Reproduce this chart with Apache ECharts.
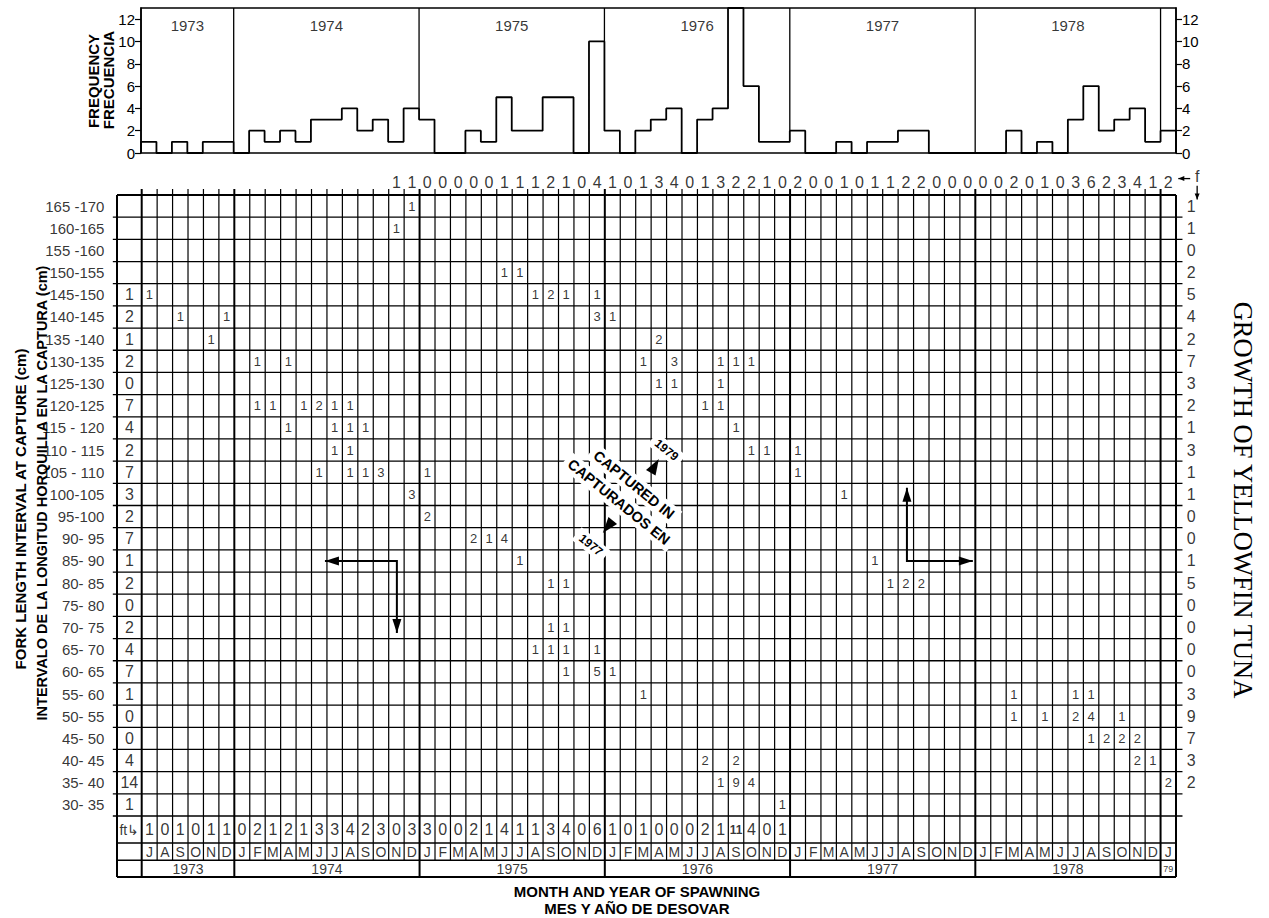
<!DOCTYPE html>
<html><head><meta charset="utf-8">
<script src="https://cdn.jsdelivr.net/npm/echarts@6/dist/echarts.min.js"></script>
<style>html,body{margin:0;padding:0;background:#fff}#c{width:1269px;height:918px}</style>
</head><body><div id="c"></div><script>
// ---------------- DATA ----------------
const monthInitials = ['J','F','M','A','M','J','J','A','S','O','N','D'];
const firstYear = 1973, firstMonth = 7, monthCount = 67;          // Jul 1973 .. Jan 1979
const yearLabels = ['1973','1974','1975','1976','1977','1978','79'];
const sizeClasses = ['165-170','160-165','155-160','150-155','145-150','140-145','135-140','130-135','125-130','120-125','115-120','110-115','105-110','100-105','95-100','90-95','85-90','80-85','75-80','70-75','65-70','60-65','55-60','50-55','45-50','40-45','35-40','30-35'];
const sizeLabels = ['165 -170','160-165','155 -160','150-155','145-150','140-145','135 -140','130-135','125-130','120-125','115 - 120','110 - 115','105 - 110','100-105','95-100','90- 95','85- 90','80- 85','75- 80','70- 75','65- 70','60- 65','55- 60','50- 55','45- 50','40- 45','35- 40','30- 35'];
// histogram (frequency per month of spawning), Jul 1973 .. Jan 1979
const frequency = [1,0,1,0,1,1, 0,2,1,2,1,3,3,4,2,3,1,4, 3,0,0,2,1,5,2,2,5,5,0,10, 2,0,2,3,4,0,3,4,13,6,1,1, 2,0,0,1,0,1,1,2,2,0,0,0, 0,0,2,0,1,0,3,6,2,3,4,1, 2];
// bottom "ft" row, Jul 1973 .. Dec 1976
const ftByMonth = [1,0,1,0,1,1, 0,2,1,2,1,3,3,4,2,3,0,3, 3,0,0,2,1,4,1,1,3,4,0,6, 1,0,1,0,0,0,2,1,11,4,0,1];
// top "f" row, Nov 1974 .. Jan 1979
const fRowStart = '1974-11';
const fByMonth = [1,1, 0,0,0,0,0,1,1,1,2,1,0,4, 1,0,1,3,4,0,1,3,2,2,1,0, 2,0,0,1,0,1,1,2,2,0,0,0, 0,0,2,0,1,0,3,6,2,3,4,1, 2];
// left "ft" column and right "f" column, per size class
const ftBySize = [null,null,null,null,1,2,1,2,0,7,4,2,7,3,2,7,1,2,0,2,4,7,1,0,0,4,14,1];
const fBySize  = [1,1,0,2,5,4,2,7,3,2,1,3,1,1,0,0,1,5,0,0,0,0,3,9,7,3,2,null];
// cell counts [month of spawning, size class, count]
const captured1977 = [
 ['1973-07','145-150',1],['1973-09','140-145',1],['1973-11','135-140',1],['1973-12','140-145',1],
 ['1974-02','130-135',1],['1974-04','130-135',1],['1974-02','120-125',1],['1974-03','120-125',1],
 ['1974-05','120-125',1],['1974-06','120-125',2],['1974-07','120-125',1],['1974-08','120-125',1],
 ['1974-04','115-120',1],['1974-07','115-120',1],['1974-08','115-120',1],['1974-09','115-120',1],
 ['1974-07','110-115',1],['1974-08','110-115',1],['1974-06','105-110',1],['1974-08','105-110',1],
 ['1974-09','105-110',1],['1974-10','105-110',3],['1974-12','100-105',3],['1975-01','105-110',1],
 ['1975-01','95-100',2],['1975-04','90-95',2],['1975-05','90-95',1],['1975-06','90-95',4],
 ['1975-07','85-90',1],['1975-08','65-70',1],['1975-09','80-85',1],['1975-09','70-75',1],
 ['1975-09','65-70',1],['1975-10','80-85',1],['1975-10','70-75',1],['1975-10','65-70',1],
 ['1975-10','60-65',1],['1975-12','65-70',1],['1975-12','60-65',5],['1976-01','60-65',1],
 ['1976-03','55-60',1],['1976-07','40-45',2],['1976-08','35-40',1],['1976-09','40-45',2],
 ['1976-09','35-40',9],['1976-10','35-40',4],['1976-12','30-35',1]
];
const captured1979 = [
 ['1974-11','160-165',1],['1974-12','165-170',1],['1975-06','150-155',1],['1975-07','150-155',1],
 ['1975-08','145-150',1],['1975-09','145-150',2],['1975-10','145-150',1],['1975-12','145-150',1],
 ['1975-12','140-145',3],['1976-01','140-145',1],['1976-03','130-135',1],['1976-04','135-140',2],
 ['1976-04','125-130',1],['1976-05','130-135',3],['1976-05','125-130',1],['1976-07','120-125',1],
 ['1976-08','130-135',1],['1976-08','125-130',1],['1976-08','120-125',1],['1976-09','130-135',1],
 ['1976-09','115-120',1],['1976-10','130-135',1],['1976-10','110-115',1],['1976-11','110-115',1],
 ['1977-01','110-115',1],['1977-01','105-110',1],['1977-04','100-105',1],['1977-06','85-90',1],
 ['1977-07','80-85',1],['1977-08','80-85',2],['1977-09','80-85',2],['1978-03','55-60',1],
 ['1978-03','50-55',1],['1978-05','50-55',1],['1978-07','55-60',1],['1978-07','50-55',2],
 ['1978-08','55-60',1],['1978-08','50-55',4],['1978-08','45-50',1],['1978-09','45-50',2],
 ['1978-10','50-55',1],['1978-10','45-50',2],['1978-11','45-50',2],['1978-11','40-45',2],
 ['1978-12','40-45',1],['1979-01','35-40',2]
];

// ---------------- LAYOUT HELPERS ----------------
const FONT = '"Liberation Sans", Arial, sans-serif';
const months = [];
for (let i = 0; i < monthCount; i++) {
  const t = firstMonth - 1 + i, y = firstYear + Math.floor(t / 12), mo = t % 12;
  months.push({key: y + '-' + String(mo + 1).padStart(2, '0'), letter: monthInitials[mo], year: y, mo});
}
const mIdx = {}; months.forEach((m, i) => mIdx[m.key] = i);
const sIdx = {}; sizeClasses.forEach((s, i) => sIdx[s] = i);
const yearStarts = []; months.forEach((m, i) => { if (i === 0 || m.mo === 0) yearStarts.push(i); });

const X_LEFT = -1.6;               // left edge of the ft column (data units of month)
const ROWS = sizeClasses.length;   // 28
const FT_BOTTOM = ROWS + 1.22, MON_BOTTOM = ROWS + 1.99, YEAR_BOTTOM = ROWS + 2.75;

function lbl(x, y, text) { return {name: String(text), value: [x, y]}; }
function textSeries(data, size, extra) {
  return {
    type: 'scatter', xAxisIndex: 1, yAxisIndex: 2, clip: false, silent: true, z: 5,
    symbol: 'circle', symbolSize: 1, itemStyle: {color: 'rgba(0,0,0,0)'},
    label: Object.assign({show: true, position: 'inside', formatter: '{b}', color: '#000', fontSize: size, fontFamily: FONT}, (extra && extra.label) || {}),
    data
  };
}

const cellData = captured1977.concat(captured1979).map(e => lbl(mIdx[e[0]] + 0.5, sIdx[e[1]] + 0.5, e[2]));
const ftRowData = ftByMonth.map((v, i) => {
  const d = lbl(i + 0.5, ROWS + 0.61, v);
  if (v >= 10) d.label = {fontSize: 12, fontWeight: 'bold'};
  return d;
});
const fRowData = fByMonth.map((v, i) => lbl(mIdx[fRowStart] + i + 0.5, -0.56, v));
const ftColData = ftBySize.map((v, r) => v === null ? null : lbl(X_LEFT / 2, r + 0.5, v)).filter(Boolean);
const fColData = fBySize.map((v, r) => v === null ? null : lbl(monthCount + 0.98, r + 0.5, v)).filter(Boolean);
const rowLabelData = sizeLabels.map((s, r) => lbl(X_LEFT - 0.78, r + 0.5, s));
const monthLetterData = months.map((m, i) => lbl(i + 0.5, ROWS + 1.62, m.letter));
const yearLabelData = yearStarts.map((s, k) => {
  const e = k + 1 < yearStarts.length ? yearStarts[k + 1] : monthCount;
  return lbl((s + e) / 2, ROWS + 2.38, yearLabels[k]);
});
const histYearData = yearStarts.slice(0, 6).map((s, k) => {
  const e = yearStarts[k + 1];
  return {name: yearLabels[k], value: [(s + e) / 2, 11.45]};
});

// histogram step line
const stepData = [[0, 0]];
frequency.forEach((v, i) => stepData.push([i, v]));
stepData.push([monthCount, frequency[monthCount - 1]]);
stepData.push([monthCount, 0]);

function arrowHead(tip, from, len, half) {
  const dx = tip[0] - from[0], dy = tip[1] - from[1], L = Math.hypot(dx, dy) || 1;
  const ux = dx / L, uy = dy / L, bx = tip[0] - ux * len, by = tip[1] - uy * len;
  return {type: 'polygon', shape: {points: [tip, [bx - uy * half, by + ux * half], [bx + uy * half, by - ux * half]]}, style: {fill: '#000'}};
}

const option = {
  backgroundColor: '#fff',
  animation: false,
  grid: [
    {left: 141, top: 8, width: 1035, height: 145, show: true, borderColor: '#000', borderWidth: 1.5, backgroundColor: 'transparent', outerBoundsMode: 'none'},
    {left: 117, top: 195, width: 1059, height: 682, show: false, outerBoundsMode: 'none'}
  ],
  xAxis: [
    {gridIndex: 0, type: 'value', min: 0, max: monthCount, show: false},
    {gridIndex: 1, type: 'value', min: X_LEFT, max: monthCount, show: false}
  ],
  yAxis: [
    {gridIndex: 0, type: 'value', min: 0, max: 13, interval: 2, position: 'left',
     axisLine: {show: true, lineStyle: {color: '#000', width: 1.5}},
     axisTick: {show: true, length: 6, lineStyle: {color: '#000', width: 1.2}},
     axisLabel: {showMaxLabel: false, color: '#000', fontSize: 15, fontFamily: FONT, margin: 6},
     splitLine: {show: false}},
    {gridIndex: 0, type: 'value', min: 0, max: 13, interval: 2, position: 'right',
     axisLine: {show: true, lineStyle: {color: '#000', width: 1.5}},
     axisTick: {show: true, length: 6, lineStyle: {color: '#000', width: 1.2}},
     axisLabel: {showMaxLabel: false, color: '#000', fontSize: 15, fontFamily: FONT, margin: 6},
     splitLine: {show: false}},
    {gridIndex: 1, type: 'value', min: 0, max: YEAR_BOTTOM, inverse: true, show: false}
  ],
  graphic: [
    {type: 'text', x: 93, y: 81, rotation: Math.PI / 2, style: {text: 'FREQUENCY', font: 'bold 15px ' + FONT, fill: '#000', align: 'center', verticalAlign: 'middle'}},
    {type: 'text', x: 108, y: 80, rotation: Math.PI / 2, style: {text: 'FRECUENCIA', font: 'bold 15px ' + FONT, fill: '#000', align: 'center', verticalAlign: 'middle'}},
    {type: 'text', x: 20, y: 509, rotation: Math.PI / 2, style: {text: 'FORK LENGTH INTERVAL AT CAPTURE (cm)', font: 'bold 15px ' + FONT, fill: '#000', align: 'center', verticalAlign: 'middle'}},
    {type: 'text', x: 42, y: 493, rotation: Math.PI / 2, style: {text: 'INTERVALO DE LA LONGITUD HORQUILLA EN LA CAPTURA (cm)', font: 'bold 14.5px ' + FONT, fill: '#000', align: 'center', verticalAlign: 'middle'}},
    {type: 'text', x: 637, y: 891, style: {text: 'MONTH AND YEAR OF SPAWNING', font: 'bold 15px ' + FONT, fill: '#000', align: 'center', verticalAlign: 'middle'}},
    {type: 'text', x: 637, y: 908, style: {text: 'MES Y AÑO DE DESOVAR', font: 'bold 15px ' + FONT, fill: '#000', align: 'center', verticalAlign: 'middle'}},
    {type: 'text', x: 1243, y: 500, rotation: -Math.PI / 2, style: {text: 'GROWTH OF YELLOWFIN TUNA', font: '26.5px "Liberation Serif", "Times New Roman", serif', fill: '#000', align: 'center', verticalAlign: 'middle'}}
  ],
  series: [
    // histogram
    {type: 'line', xAxisIndex: 0, yAxisIndex: 0, step: 'end', symbol: 'none', data: stepData,
     lineStyle: {color: '#000', width: 1.8}, silent: true, z: 3},
    // histogram year separators
    {type: 'custom', xAxisIndex: 0, yAxisIndex: 0, silent: true, clip: false, data: [[0, 0]], z: 2,
     renderItem: (params, api) => {
       const ch = [];
       yearStarts.slice(1).forEach(s => {
         const lvl = Math.max(frequency[s - 1], frequency[s] || 0);
         const a = api.coord([s, 13]), b = api.coord([s, lvl]);
         ch.push({type: 'line', shape: {x1: a[0], y1: a[1], x2: b[0], y2: b[1]}, style: {stroke: '#000', lineWidth: 1.3}});
       });
       return {type: 'group', children: ch};
     }},
    Object.assign(textSeries([], 15), {xAxisIndex: 0, yAxisIndex: 0, data: histYearData}),
    // table frame
    {type: 'custom', xAxisIndex: 1, yAxisIndex: 2, silent: true, clip: false, data: [[0, 0]], z: 2,
     renderItem: (params, api) => {
       const ch = [];
       const seg = (x1, y1, x2, y2, w) => {
         const a = api.coord([x1, y1]), b = api.coord([x2, y2]);
         ch.push({type: 'line', shape: {x1: a[0], y1: a[1], x2: b[0], y2: b[1]}, style: {stroke: '#000', lineWidth: w}});
       };
       seg(X_LEFT, 0, monthCount, 0, 1.8);
       for (let r = 1; r <= ROWS; r++) seg(X_LEFT - 0.27, r, monthCount + 0.42, r, 1.3);
       seg(X_LEFT, FT_BOTTOM, monthCount, FT_BOTTOM, 1.5);
       seg(X_LEFT, MON_BOTTOM, monthCount, MON_BOTTOM, 1.5);
       seg(X_LEFT, YEAR_BOTTOM, monthCount, YEAR_BOTTOM, 1.8);
       seg(X_LEFT, 0, X_LEFT, YEAR_BOTTOM, 2);
       seg(monthCount, 0, monthCount, YEAR_BOTTOM, 2);
       for (let m = 0; m < monthCount; m++) {
         if (yearStarts.indexOf(m) >= 0) seg(m, -0.27, m, YEAR_BOTTOM, 2);
         else seg(m, -0.27, m, MON_BOTTOM, 1.2);
       }
       // L-shaped arrows
       const L = (corner, hTip, vTip) => {
         const c = api.coord(corner), h = api.coord(hTip), v = api.coord(vTip);
         ch.push({type: 'polyline', shape: {points: [h, c, v]}, style: {stroke: '#000', lineWidth: 2, fill: null}});
         ch.push(arrowHead(h, c, 14, 4.5));
         ch.push(arrowHead(v, c, 14, 4.5));
       };
       L([16.53, 16.5], [11.87, 16.5], [16.53, 19.75]);
       L([49.57, 16.5], [53.84, 16.5], [49.57, 13.2]);
       // "captured in" annotation
       const rot = -0.68;
       const txt = (pos, s, size) => {
         const p = api.coord(pos);
         ch.push({type: 'text', x: p[0], y: p[1], rotation: rot, z2: 10,
           style: {text: s, font: 'bold ' + size + 'px ' + FONT, fill: '#000', align: 'center', verticalAlign: 'middle', backgroundColor: '#fff', padding: [2, 5]}});
       };
       txt([31.89, 13.07], 'CAPTURED IN', 14.5);
       txt([30.91, 13.84], 'CAPTURADOS EN', 14.5);
       txt([34.0, 11.5], '1979', 12);
       txt([29.1, 15.78], '1977', 12);
       const dart = (from, tip) => {
         const a = api.coord(from), b = api.coord(tip);
         const h = arrowHead(b, a, 16, 5.5); h.z2 = 11; ch.push(h);
       };
       dart([32.66, 12.9], [33.5, 11.9]);
       dart([30.85, 14.38], [29.87, 15.24]);
       // top-right "f" markers: arrow pointing left to the f row and down to the f column
       const fx = monthCount + 1.37;
       const l1 = api.coord([fx - 0.45, -0.74]), l2 = api.coord([monthCount + 0.15, -0.74]);
       ch.push({type: 'line', shape: {x1: l1[0], y1: l1[1], x2: l2[0], y2: l2[1]}, style: {stroke: '#000', lineWidth: 1.3}});
       ch.push(arrowHead(l2, l1, 6, 2.5));
       const f1 = api.coord([fx, -0.42]), f2 = api.coord([fx, 0.2]);
       ch.push({type: 'line', shape: {x1: f1[0], y1: f1[1], x2: f2[0], y2: f2[1]}, style: {stroke: '#000', lineWidth: 1.3}});
       ch.push(arrowHead(f2, f1, 6, 2.5));
       return {type: 'group', children: ch};
     }},
    textSeries(cellData, 13),
    textSeries(ftRowData, 16),
    textSeries(fRowData, 16),
    textSeries(ftColData, 16),
    textSeries(fColData, 16),
    textSeries(rowLabelData, 15, {label: {position: 'left', distance: 0}}),
    textSeries(monthLetterData, 14),
    textSeries(yearLabelData.slice(0, 6), 14),
    textSeries(yearLabelData.slice(6), 9),
    textSeries([lbl(X_LEFT / 2, ROWS + 0.61, 'ft↳')], 14),
    textSeries([lbl(monthCount + 1.37, -0.82, 'f')], 16)
  ]
};
const chart = echarts.init(document.getElementById('c'), null, {renderer: 'svg', width: 1269, height: 918});
chart.setOption(option);
</script></body></html>
